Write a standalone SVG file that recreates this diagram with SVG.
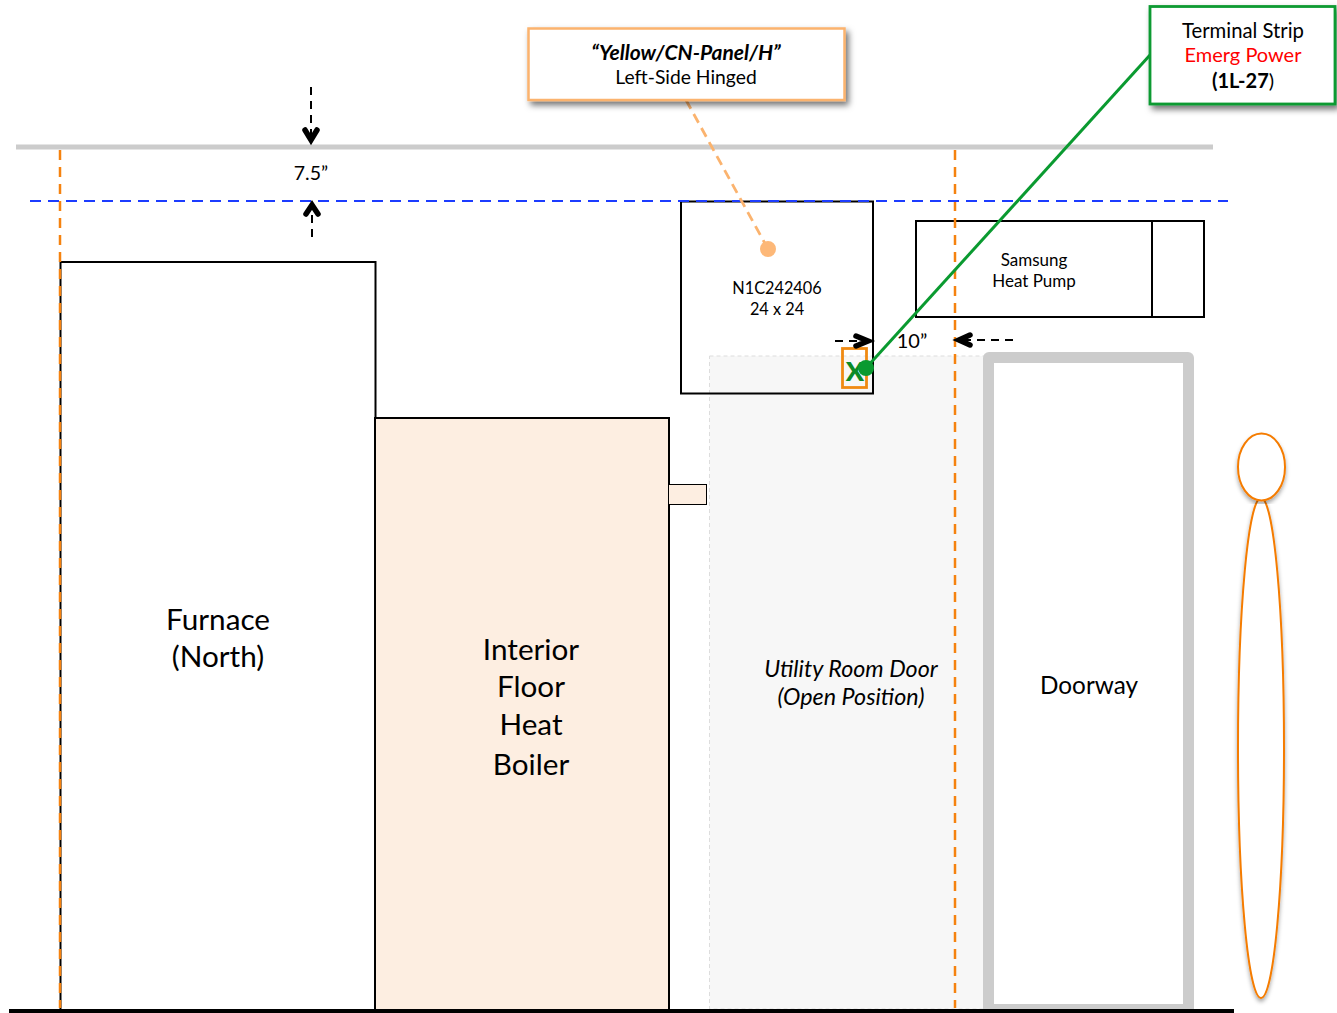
<svg xmlns="http://www.w3.org/2000/svg" width="1337" height="1013" viewBox="0 0 1337 1013">
<style>
text{font-family:"Lato","Open Sans","Liberation Sans",sans-serif;fill:#000;text-anchor:middle}
.b{fill:none;stroke:#000;stroke-width:2}
.od{fill:none;stroke:#f5820f;stroke-width:2.500;stroke-dasharray:10 7}
.dim{fill:none;stroke:#000;stroke-width:2;stroke-dasharray:8 6}
.ch{fill:none;stroke:#000;stroke-width:5.500;stroke-linecap:round;stroke-linejoin:miter}
.big{font-size:29.700px}
.sm{font-size:16.300px}
.sm2{font-size:17px}
</style>
<defs>
<filter id="sh" x="-10%" y="-10%" width="125%" height="130%"><feDropShadow dx="3" dy="4" stdDeviation="3" flood-color="#000" flood-opacity=".55"/></filter>
<filter id="sh2" x="-30%" y="-5%" width="160%" height="110%"><feDropShadow dx="0" dy="3" stdDeviation="2" flood-color="#000" flood-opacity=".35"/></filter>
</defs>
<rect width="1337" height="1013" fill="#fff"/>
<g id="door-open"><rect x="709.500" y="356" width="276" height="653" fill="#f7f7f7" stroke="#ddd" stroke-width="1" stroke-dasharray="4 3"/>
<text x="851" y="677" font-size="23.300" font-style="italic">Utility Room Door</text><text x="851" y="705" font-size="23.300" font-style="italic">(Open Position)</text></g>
<g id="furnace"><rect class="b" x="60.500" y="262" width="315" height="748" style="fill:#fff"/>
<text class="big" x="218" y="630">Furnace</text><text class="big" x="218" y="667">(North)</text></g>
<g id="boiler"><rect class="b" x="375" y="418" width="294" height="592" style="fill:#fdeee1"/>
<text class="big" x="531" y="660">Interior</text><text class="big" x="531" y="697">Floor</text><text class="big" x="531" y="735">Heat</text><text class="big" x="531" y="775">Boiler</text></g>
<g id="boiler-stub"><rect x="668.500" y="484.500" width="38" height="20" fill="#fdeee1" stroke="#000" stroke-width="1"/></g>
<g id="doorway"><path fill="#ccc" d="M983 1010V358a6 6 0 0 1 6-6H1188a6 6 0 0 1 6 6V1010Z"/><rect x="994" y="363" width="189" height="641" fill="#fff"/>
<text x="1089" y="694" font-size="24.300">Doorway</text></g>
<g id="ceiling"><rect x="16" y="144.500" width="1197" height="5" fill="#ccc"/></g>
<g id="panel"><rect class="b" x="681" y="201.500" width="192" height="192"/>
<text class="sm" x="777" y="294">N1C242406</text><text class="sm" x="777" y="315">24 x 24</text></g>
<g id="heat-pump"><rect class="b" x="916" y="221" width="288" height="96"/><path class="b" d="M1152 221V317"/>
<text class="sm2" x="1034" y="266">Samsung</text><text class="sm2" x="1034" y="287">Heat Pump</text></g>
<g id="person"><ellipse cx="1261" cy="748" rx="23" ry="250" fill="#fff" stroke="#f57c00" stroke-width="2" filter="url(#sh2)"/>
<ellipse cx="1261.500" cy="467" rx="23.500" ry="33.500" fill="#fff" stroke="#f57c00" stroke-width="2" filter="url(#sh2)"/></g>
<g id="ground"><rect x="9" y="1009" width="1225" height="4" fill="#000"/></g>
<g id="terminal-marker"><rect x="842.500" y="348.500" width="24" height="39" fill="none" stroke="#f08a12" stroke-width="2.800"/>
<text x="855" y="381" font-size="27" font-weight="900" style="fill:#0a8a25">X</text></g>
<g id="connectors">
<path class="od" d="M60 150V1008"/><path class="od" d="M955 150V1008"/>
<path fill="none" stroke="#1c3cff" stroke-width="2" stroke-dasharray="11 7" d="M30 201H1228"/>
<path fill="none" stroke="#fbb36e" stroke-width="2.800" stroke-dasharray="10 6" d="M686 100L768 249"/>
<circle cx="768" cy="249" r="8" fill="#fdb878"/>
<path fill="none" stroke="#0a9a30" stroke-width="3" d="M866 368L1150 55"/>
<circle cx="866" cy="368" r="8" fill="#0a9a30"/>
<path class="dim" d="M311 87V138"/><path class="ch" d="M305 130L311 140L317 130"/>
<path class="dim" d="M312 237V208"/><path class="ch" d="M306 214L312 205L318 214"/>
<path class="dim" d="M835 341H866"/><path class="ch" d="M856 336L868 341L856 346"/>
<path class="dim" d="M1013 340H962"/><path class="ch" d="M970 335L959 340L970 345"/>
</g>
<g id="callout-panel"><rect x="528.500" y="28.500" width="316" height="71.500" fill="#fff" stroke="#fbb36e" stroke-width="2.500" filter="url(#sh)"/>
<text x="686" y="60" font-size="21" font-weight="700" font-style="italic">“Yellow/CN-Panel/H”</text><text x="686" y="84" font-size="19.300">Left-Side Hinged</text></g>
<g id="callout-terminal"><rect x="1150" y="6.500" width="185" height="97.500" fill="#fff" stroke="#0a9a30" stroke-width="2.800" filter="url(#sh)"/>
<text font-size="20.300" x="1243" y="38">Terminal Strip</text><text font-size="20" x="1243" y="62" style="fill:#f00">Emerg Power</text><text font-size="20" x="1243" y="88"><tspan font-weight="700">(1L-27</tspan>)</text></g>
<g id="dim-labels"><text x="311" y="180" font-size="19.500">7.5”</text><text x="912" y="348" font-size="20">10”</text></g>
</svg>
